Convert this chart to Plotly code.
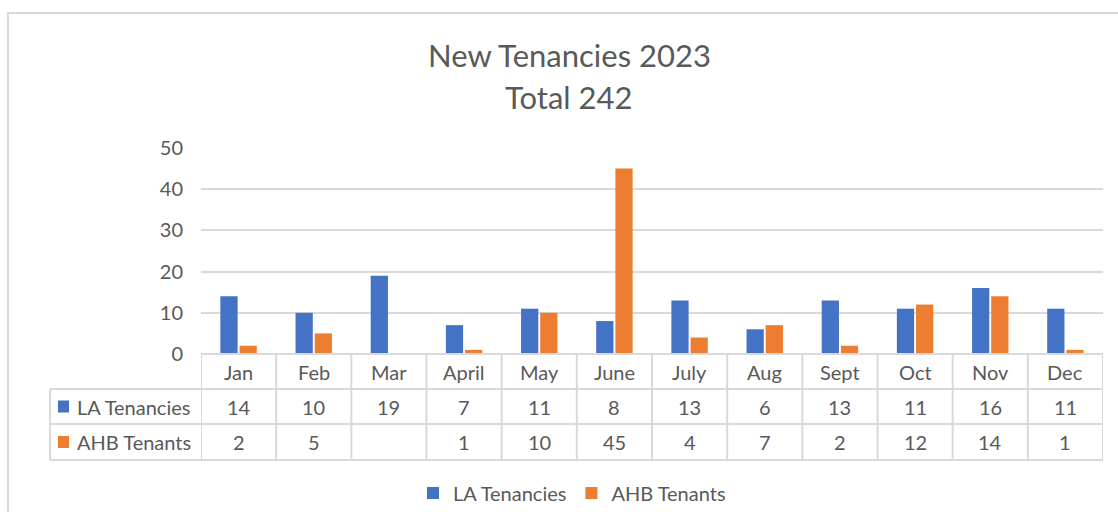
import plotly.graph_objects as go

months = ["Jan", "Feb", "Mar", "April", "May", "June", "July", "Aug", "Sept", "Oct", "Nov", "Dec"]
la_tenancies = [14, 10, 19, 7, 11, 8, 13, 6, 13, 11, 16, 11]
ahb_tenants = [2, 5, None, 1, 10, 45, 4, 7, 2, 12, 14, 1]
series_names = ["LA Tenancies", "AHB Tenants"]
colors = ["#4472C4", "#ED7D31"]

W, H = 1118, 512
L, R, T, B = 201, 15, 148, 158
pw, ph = W - L - R, H - T - B

def px_x(px):
    return (px - L) / pw

def px_y(py):
    return (H - B - py) / ph

FONT = "Lato"
TXT = "#595959"
GRID = "#D9D9D9"
FS = 20

xs = list(range(len(months)))
fig = go.Figure()
for name, vals, col in zip(series_names, [la_tenancies, ahb_tenants], colors):
    fig.add_trace(go.Bar(x=xs, y=vals, name=name, marker=dict(color=col, line=dict(width=0))))

shapes = []
annotations = []
# outer border
shapes.append(dict(type="rect", xref="paper", yref="paper", x0=px_x(8), x1=px_x(1130), y0=px_y(525), y1=px_y(13),
                   line=dict(color=GRID, width=2), layer="below"))
# table lines
y_rows = [px_y(354), px_y(389), px_y(424), px_y(460)]
xl = px_x(50)
shapes.append(dict(type="line", xref="paper", yref="paper", x0=0, x1=1, y0=y_rows[0], y1=y_rows[0], line=dict(color=GRID, width=2)))
for yv in y_rows[1:]:
    shapes.append(dict(type="line", xref="paper", yref="paper", x0=xl, x1=1, y0=yv, y1=yv, line=dict(color=GRID, width=2)))
shapes.append(dict(type="line", xref="paper", yref="paper", x0=xl, x1=xl, y0=y_rows[1], y1=y_rows[3], line=dict(color=GRID, width=2)))
for i in range(len(months) + 1):
    shapes.append(dict(type="line", xref="x", yref="paper", x0=i - 0.5, x1=i - 0.5, y0=y_rows[0], y1=y_rows[3], line=dict(color=GRID, width=2)))

row_centers = [px_y(371.5), px_y(406.5), px_y(442)]
for i, m in enumerate(months):
    annotations.append(dict(x=i, y=row_centers[0], xref="x", yref="paper", text=m, showarrow=False,
                            xanchor="center", yanchor="middle",
                            font=dict(family=FONT, size=FS, color=TXT)))
for r, vals in enumerate([la_tenancies, ahb_tenants]):
    for i, v in enumerate(vals):
        if v is None:
            continue
        annotations.append(dict(x=i, y=row_centers[r + 1], xref="x", yref="paper", text=str(v), showarrow=False,
                                xanchor="center", yanchor="middle",
                                font=dict(family=FONT, size=FS, color=TXT)))
    # key square
    yc = 406.5 + 35.5 * r
    shapes.append(dict(type="rect", xref="paper", yref="paper", x0=px_x(58), x1=px_x(69), y0=px_y(yc + 6), y1=px_y(yc - 6),
                       fillcolor=colors[r], line=dict(width=0)))
    annotations.append(dict(x=px_x(75), y=row_centers[r + 1], xref="paper", yref="paper", xanchor="left",
                            yanchor="middle", text=series_names[r], showarrow=False,
                            font=dict(family=FONT, size=FS, color=TXT)))

annotations.append(dict(x=px_x(569), y=px_y(55), xref="paper", yref="paper", text="New Tenancies 2023",
                        xanchor="center", yanchor="middle",
                        showarrow=False, font=dict(family=FONT, size=31, color=TXT)))
annotations.append(dict(x=px_x(569), y=px_y(97), xref="paper", yref="paper", text="Total 242",
                        xanchor="center", yanchor="middle",
                        showarrow=False, font=dict(family=FONT, size=31, color=TXT)))

fig.update_layout(
    width=W, height=H,
    margin=dict(l=L, r=R, t=T, b=B, autoexpand=False),
    paper_bgcolor="white", plot_bgcolor="white",
    barmode="group", bargap=0.49, bargroupgap=0.1,
    font=dict(family=FONT, size=FS, color=TXT),
    xaxis=dict(range=[-0.5, len(months) - 0.5], showticklabels=False, showgrid=False, zeroline=False, showline=False),
    yaxis=dict(range=[0, 50], dtick=10, showgrid=True, gridcolor=GRID, gridwidth=2, zeroline=False,
               tickfont=dict(family=FONT, size=FS, color=TXT), ticklabelstandoff=17),
    legend=dict(orientation="h", x=px_x(572), xanchor="center", y=px_y(493), yanchor="middle",
                font=dict(family=FONT, size=FS, color=TXT), itemwidth=30, traceorder="normal"),
    shapes=shapes, annotations=annotations,
)
fig.write_html("out.html", config={"displayModeBar": False},
               post_script="document.body.style.margin='0px';")
